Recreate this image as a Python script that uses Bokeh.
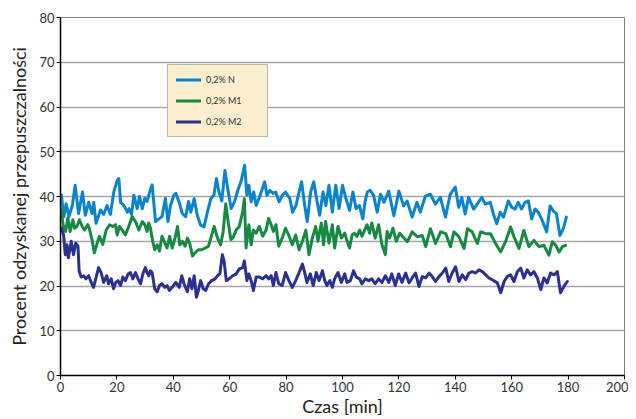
from bokeh.plotting import figure
from bokeh.models import Range1d, Legend, LegendItem, SingleIntervalTicker
from bokeh.embed import file_html
from bokeh.resources import INLINE

# ---- data ----
t_n = [0.3, 1.2, 2.0, 3.0, 4.2, 5.2, 6.4, 7.8, 8.8, 10.0, 11.2, 11.8, 12.6, 14.2, 15.3, 16.5, 17.7,
       18.9, 20.1, 20.7, 21.3, 22.5, 23.7, 24.3, 25.2, 26.0, 27.2, 28.0, 29.0, 29.9, 30.7, 31.6, 32.5,
       33.7, 34.9, 36.0, 37.2, 38.1, 39.0, 40.2, 40.9, 42.0, 43.2, 44.4, 45.4, 46.2, 47.4, 48.5, 49.7,
       50.9, 52.1, 53.3, 54.4, 55.3, 56.2, 57.2, 58.3, 59.5, 60.5, 61.7, 62.9, 64.1, 65.3, 66.1, 66.8,
       67.6, 68.5, 69.4, 70.4, 71.2, 72.4, 73.2, 74.2, 75.4, 76.3, 77.5, 78.7, 79.8, 81.3, 82.3, 83.5,
       84.6, 85.5, 86.6, 87.5, 88.7, 89.8, 91.0, 91.9, 93.1, 94.1, 95.2, 96.4, 97.6, 98.8, 100.0, 101.2,
       102.5, 103.7, 104.8, 106.0, 107.2, 108.0, 108.8, 109.8, 111.0, 112.3, 113.5, 114.7, 116.4, 118.2,
       120.0, 121.7, 122.9, 124.7, 126.4, 127.6, 129.4, 131.2, 132.9, 134.7, 136.5, 138.2, 140.0, 141.2,
       142.3, 143.5, 144.7, 146.5, 148.2, 149.4, 150.6, 152.4, 153.5, 154.7, 155.9, 157.1, 158.8, 160.0,
       161.2, 162.3, 163.5, 164.7, 165.9, 167.1, 168.3, 169.4, 170.6, 172.4, 173.6, 174.7, 175.9, 177.1,
       178.3, 179.4]
v_n = [40.4, 35.5, 38.4, 35.5, 38.0, 42.5, 36.2, 41.0, 35.8, 38.7, 36.2, 38.7, 34.0, 37.0, 36.0, 38.0, 36.0,
       41.0, 43.6, 44.0, 38.7, 38.0, 36.5, 37.3, 36.0, 40.3, 37.3, 40.0, 37.3, 39.6, 38.9, 41.0, 42.6,
       34.4, 35.0, 35.5, 39.6, 34.4, 38.0, 40.3, 40.7, 38.9, 36.2, 35.5, 38.9, 36.5, 39.5, 35.8, 33.6,
       33.2, 36.5, 39.5, 40.3, 44.0, 41.0, 39.0, 45.8, 41.0, 37.3, 38.8, 41.4, 43.6, 47.0, 40.3, 42.5,
       38.8, 41.0, 38.0, 39.6, 41.0, 43.3, 40.3, 41.4, 40.7, 41.0, 38.8, 40.3, 41.0, 39.6, 36.5, 38.0,
       41.0, 43.3, 38.0, 34.4, 41.0, 43.3, 38.8, 35.8, 41.0, 38.0, 42.5, 36.5, 42.5, 37.3, 42.5, 39.6,
       36.9, 41.0, 37.3, 38.0, 35.0, 38.8, 41.0, 41.4, 40.3, 36.5, 40.5, 38.7, 41.2, 35.7,
       41.2, 37.9, 39.0, 35.4, 38.7, 36.5, 40.1, 40.5, 38.3, 39.8, 35.4, 40.5, 42.1, 37.6,
       39.8, 36.1, 39.8, 37.2, 38.7, 39.8, 38.3, 38.7, 36.1, 33.9, 36.5, 35.4, 39.0, 37.6,
       37.2, 38.7, 37.2, 38.7, 39.0, 35.0, 37.2, 36.5, 35.0, 32.1, 37.9, 36.8, 36.1, 31.3,
       32.8, 35.4]

t_m1 = [0.3, 0.9, 1.8, 2.6, 3.4, 4.4, 5.0, 5.8, 6.7, 7.7, 8.5, 9.7, 10.2, 11.2, 12.0, 13.2, 13.8, 15.0,
        16.2, 17.4, 18.5, 19.5, 20.1, 20.9, 21.9, 23.0, 24.2, 25.4, 26.6, 27.8, 29.0, 29.9, 30.7, 31.3,
        31.9, 32.7, 33.4, 34.3, 35.1, 36.0, 37.0, 37.8, 38.7, 39.6, 40.6, 41.5, 42.3, 43.2, 44.2, 45.0,
        45.8, 46.8, 47.7, 48.9, 50.1, 51.3, 52.5, 53.3, 54.5, 55.7, 56.8, 57.7, 58.6, 59.6, 60.4, 61.1,
        62.3, 63.4, 64.6, 65.2, 65.8, 66.8, 67.6, 68.4, 69.4, 70.5, 71.7, 72.9, 73.8, 74.7, 75.5, 76.4,
        77.4, 78.6, 79.8, 80.9, 82.2, 83.4, 84.6, 85.8, 87.0, 88.1, 89.3, 90.5, 91.3, 92.5, 93.3, 94.0,
        95.2, 96.4, 97.2, 98.4, 99.6, 100.8, 101.3, 102.5, 103.4, 104.2, 105.1, 106.1, 106.9, 107.7,
        108.7, 109.6, 110.4, 111.6, 112.8, 114.0, 115.2, 115.8, 116.7, 117.9, 119.1, 120.3, 121.4,
        123.0, 124.7, 126.5, 128.3, 129.5, 131.2, 133.0, 134.8, 136.6, 138.3, 139.5, 141.3, 143.1,
        144.3, 146.0, 147.8, 149.0, 150.8, 152.5, 154.3, 156.1, 157.8, 159.6, 160.8, 162.6, 164.3,
        166.1, 167.9, 169.7, 171.4, 173.2, 174.4, 175.6, 176.8, 178.0, 179.1]
v_m1 = [37.0, 33.7, 32.2, 35.2, 32.2, 34.8, 32.9, 33.3, 34.8, 33.3, 32.5, 33.7, 32.9, 30.3, 27.4, 30.0, 31.1, 29.3,
        32.5, 33.7, 33.3, 33.7, 31.4, 33.3, 32.5, 31.4, 33.3, 35.5, 34.4, 32.5, 34.4, 33.7, 32.2, 34.1,
        32.9, 30.0, 28.1, 29.2, 27.8, 31.1, 29.6, 28.5, 31.1, 28.5, 30.7, 33.3, 29.2, 30.0, 28.9, 30.7,
        29.6, 26.7, 27.4, 28.1, 28.1, 28.5, 28.9, 30.7, 33.3, 30.7, 29.2, 32.2, 38.4, 33.7, 30.4, 30.7,
        32.5, 33.3, 36.6, 39.5, 28.5, 33.7, 29.2, 32.5, 31.8, 33.3, 31.1, 32.5, 35.1, 33.7, 32.2, 33.7,
        28.9, 30.7, 32.9, 31.4, 29.2, 31.4, 28.1, 30.0, 32.5, 27.0, 30.7, 33.3, 30.0, 34.1, 29.2, 34.4,
        29.6, 33.7, 28.5, 33.3, 30.7, 31.8, 30.7, 28.5, 31.4, 31.8, 31.1, 32.5, 31.1, 32.2,
        33.7, 31.8, 34.1, 30.7, 33.7, 29.2, 27.0, 32.2, 30.7, 32.9, 30.0, 31.8, 31.0,
        29.9, 32.1, 31.0, 31.3, 28.8, 32.8, 29.5, 32.1, 31.7, 28.8, 32.1, 31.0, 28.4,
        32.8, 32.1, 29.5, 32.1, 31.7, 31.7, 29.5, 27.6, 29.9, 33.2, 31.0, 28.4, 32.4,
        28.8, 30.2, 28.8, 29.1, 26.9, 29.9, 29.1, 27.6, 28.8, 29.1]

t_m2 = [0.3, 1.1, 1.7, 2.3, 2.8, 3.8, 4.6, 5.4, 6.2, 6.6, 7.3, 8.2, 9.0, 10.0, 10.9, 11.7, 12.5, 13.5,
        14.4, 15.3, 16.4, 17.0, 18.0, 18.8, 19.6, 20.4, 21.3, 22.1, 23.0, 24.0, 24.8, 25.6, 26.6, 27.5,
        28.4, 29.2, 30.1, 30.7, 31.3, 31.9, 32.5, 33.4, 34.3, 35.1, 36.0, 37.0, 37.8, 38.6, 39.6, 40.9,
        42.1, 43.0, 43.8, 45.0, 45.8, 46.6, 47.4, 48.2, 48.9, 49.7, 50.6, 51.5, 52.5, 53.6, 54.8, 55.7,
        56.5, 57.4, 58.0, 58.8, 59.8, 61.1, 62.3, 63.4, 64.6, 65.2, 66.1, 66.8, 67.6, 68.4, 69.4, 70.5,
        71.7, 72.9, 73.8, 74.7, 75.5, 76.4, 77.4, 78.6, 79.8, 81.0, 82.2, 83.4, 84.6, 85.8, 86.6, 87.4,
        88.6, 89.6, 90.7, 91.7, 92.9, 93.7, 94.5, 95.5, 96.4, 97.2, 98.4, 99.6, 100.8, 101.6, 102.8,
        103.9, 104.9, 106.1, 106.9, 108.1, 109.3, 110.4, 111.6, 112.8, 114.0, 115.2, 116.4, 117.5,
        118.7, 119.9, 121.1, 122.4, 123.6, 124.7, 125.9, 127.1, 128.3, 129.5, 130.7, 131.8, 133.0,
        134.2, 135.4, 136.6, 137.7, 138.9, 140.1, 141.3, 142.5, 143.7, 144.8, 146.0, 147.2, 148.4,
        149.6, 150.8, 151.9, 153.1, 154.9, 156.1, 157.3, 158.4, 159.6, 160.8, 162.0, 163.2, 164.3,
        165.5, 166.7, 167.9, 169.1, 170.3, 171.4, 172.6, 173.8, 175.0, 176.2, 177.3, 178.5, 179.7]
v_m2 = [33.0, 31.4, 27.0, 29.2, 26.3, 30.0, 27.0, 29.6, 28.9, 23.4, 22.0, 22.3, 21.6, 22.3, 20.8, 19.7, 21.6, 24.1,
        23.0, 20.8, 22.3, 20.5, 21.6, 19.4, 20.8, 21.2, 20.1, 22.0, 21.2, 22.7, 23.0, 21.6, 23.0, 21.6,
        20.5, 22.7, 24.1, 23.0, 22.3, 23.4, 23.0, 19.4, 18.7, 20.1, 20.5, 19.7, 20.1, 19.0, 19.7, 20.8,
        19.7, 22.3, 20.5, 18.7, 21.6, 19.4, 22.3, 17.5, 19.0, 21.2, 19.4, 19.0, 20.5, 21.2, 21.6, 22.3,
        22.7, 27.0, 25.6, 21.2, 21.6, 22.3, 22.7, 23.8, 24.1, 25.6, 21.2, 22.7, 21.2, 19.0, 22.0, 22.0,
        21.6, 22.3, 21.6, 22.3, 20.1, 23.0, 20.5, 20.1, 23.0, 21.2, 19.7, 21.2, 23.0, 24.9, 23.0, 20.8,
        22.7, 20.1, 23.0, 21.2, 23.4, 21.2, 20.1, 21.2, 19.7, 21.6, 23.0, 20.8, 22.7, 20.8, 21.2,
        23.4, 22.0, 21.6, 20.5, 21.6, 21.2, 21.6, 20.5, 21.6, 20.8, 22.3, 20.8, 22.7,
        20.1, 22.7, 20.8, 22.9, 20.7, 21.8, 22.9, 19.9, 22.1, 21.8, 22.9, 22.1, 21.0,
        22.1, 22.9, 24.0, 21.0, 22.9, 24.3, 21.0, 22.5, 21.4, 22.9, 23.2, 22.9, 23.6,
        23.2, 22.5, 21.8, 21.4, 20.7, 18.5, 21.0, 22.1, 22.5, 21.0, 23.2, 24.0, 21.8,
        23.6, 22.5, 23.2, 21.8, 19.2, 21.8, 20.7, 22.9, 22.5, 23.2, 18.5, 19.9, 21.0]

labels = ["0,2% N", "0,2% M1", "0,2% M2"]
colors = ["#0b84cc", "#168a42", "#2c3190"]
x_ticks_step = 20
y_ticks_step = 10

FONT = "Lato"

p = figure(frame_width=564, frame_height=358, output_backend="svg", toolbar_location=None,
           x_range=Range1d(0, 200), y_range=Range1d(0, 80),
           min_border_left=60, min_border_right=4, min_border_top=17, min_border_bottom=36)

series = [(t_n, v_n), (t_m1, v_m1), (t_m2, v_m2)]
renderers = []
for (tx, vy), c in zip(series, colors):
    r = p.line(tx, vy, line_color=c, line_width=3, line_join="round", line_cap="round")
    renderers.append(r)

p.xaxis.ticker = SingleIntervalTicker(interval=x_ticks_step, num_minor_ticks=0)
p.yaxis.ticker = SingleIntervalTicker(interval=y_ticks_step, num_minor_ticks=0)
p.xgrid.grid_line_color = None
p.ygrid.grid_line_color = "#a6a6a6"
p.ygrid.grid_line_width = 1.5

for ax in (p.xaxis, p.yaxis):
    ax.axis_line_color = "#000000"
    ax.axis_line_width = 1.5
    ax.major_tick_line_color = "#000000"
    ax.major_tick_line_width = 1
    ax.major_tick_in = 0
    ax.major_tick_out = 4
    ax.minor_tick_line_color = None
    ax.major_label_text_font = FONT
    ax.major_label_text_font_size = "13px"
    ax.major_label_text_color = "#333333"
    ax.axis_label_text_font = FONT
    ax.axis_label_text_font_style = "normal"
    ax.axis_label_text_font_size = "18px"
    ax.axis_label_text_color = "#222222"

p.xaxis.axis_label = "Czas [min]"
p.yaxis.axis_label = "Procent odzyskanej przepuszczalności"
p.xaxis.axis_label_standoff = 0
p.yaxis.axis_label_standoff = 6
p.xaxis.major_label_standoff = 2
p.yaxis.major_label_standoff = 2

p.outline_line_color = "#808080"
p.outline_line_width = 1
p.background_fill_color = "white"
p.border_fill_color = "white"

legend = Legend(items=[LegendItem(label=l, renderers=[r]) for l, r in zip(labels, renderers)],
                location=(107, 238), orientation="vertical")
legend.background_fill_color = "#fcefd0"
legend.background_fill_alpha = 1
legend.border_line_color = "#808080"
legend.border_line_width = 1
legend.label_text_font = FONT
legend.label_text_font_size = "9px"
legend.label_text_color = "#333333"
legend.glyph_width = 25
legend.glyph_height = 13
legend.label_height = 13
legend.label_width = 53
legend.label_standoff = 5
legend.spacing = 8
legend.padding = 8
legend.margin = 0
p.add_layout(legend, "center")

open("out.html", "w").write(file_html(p, INLINE))
